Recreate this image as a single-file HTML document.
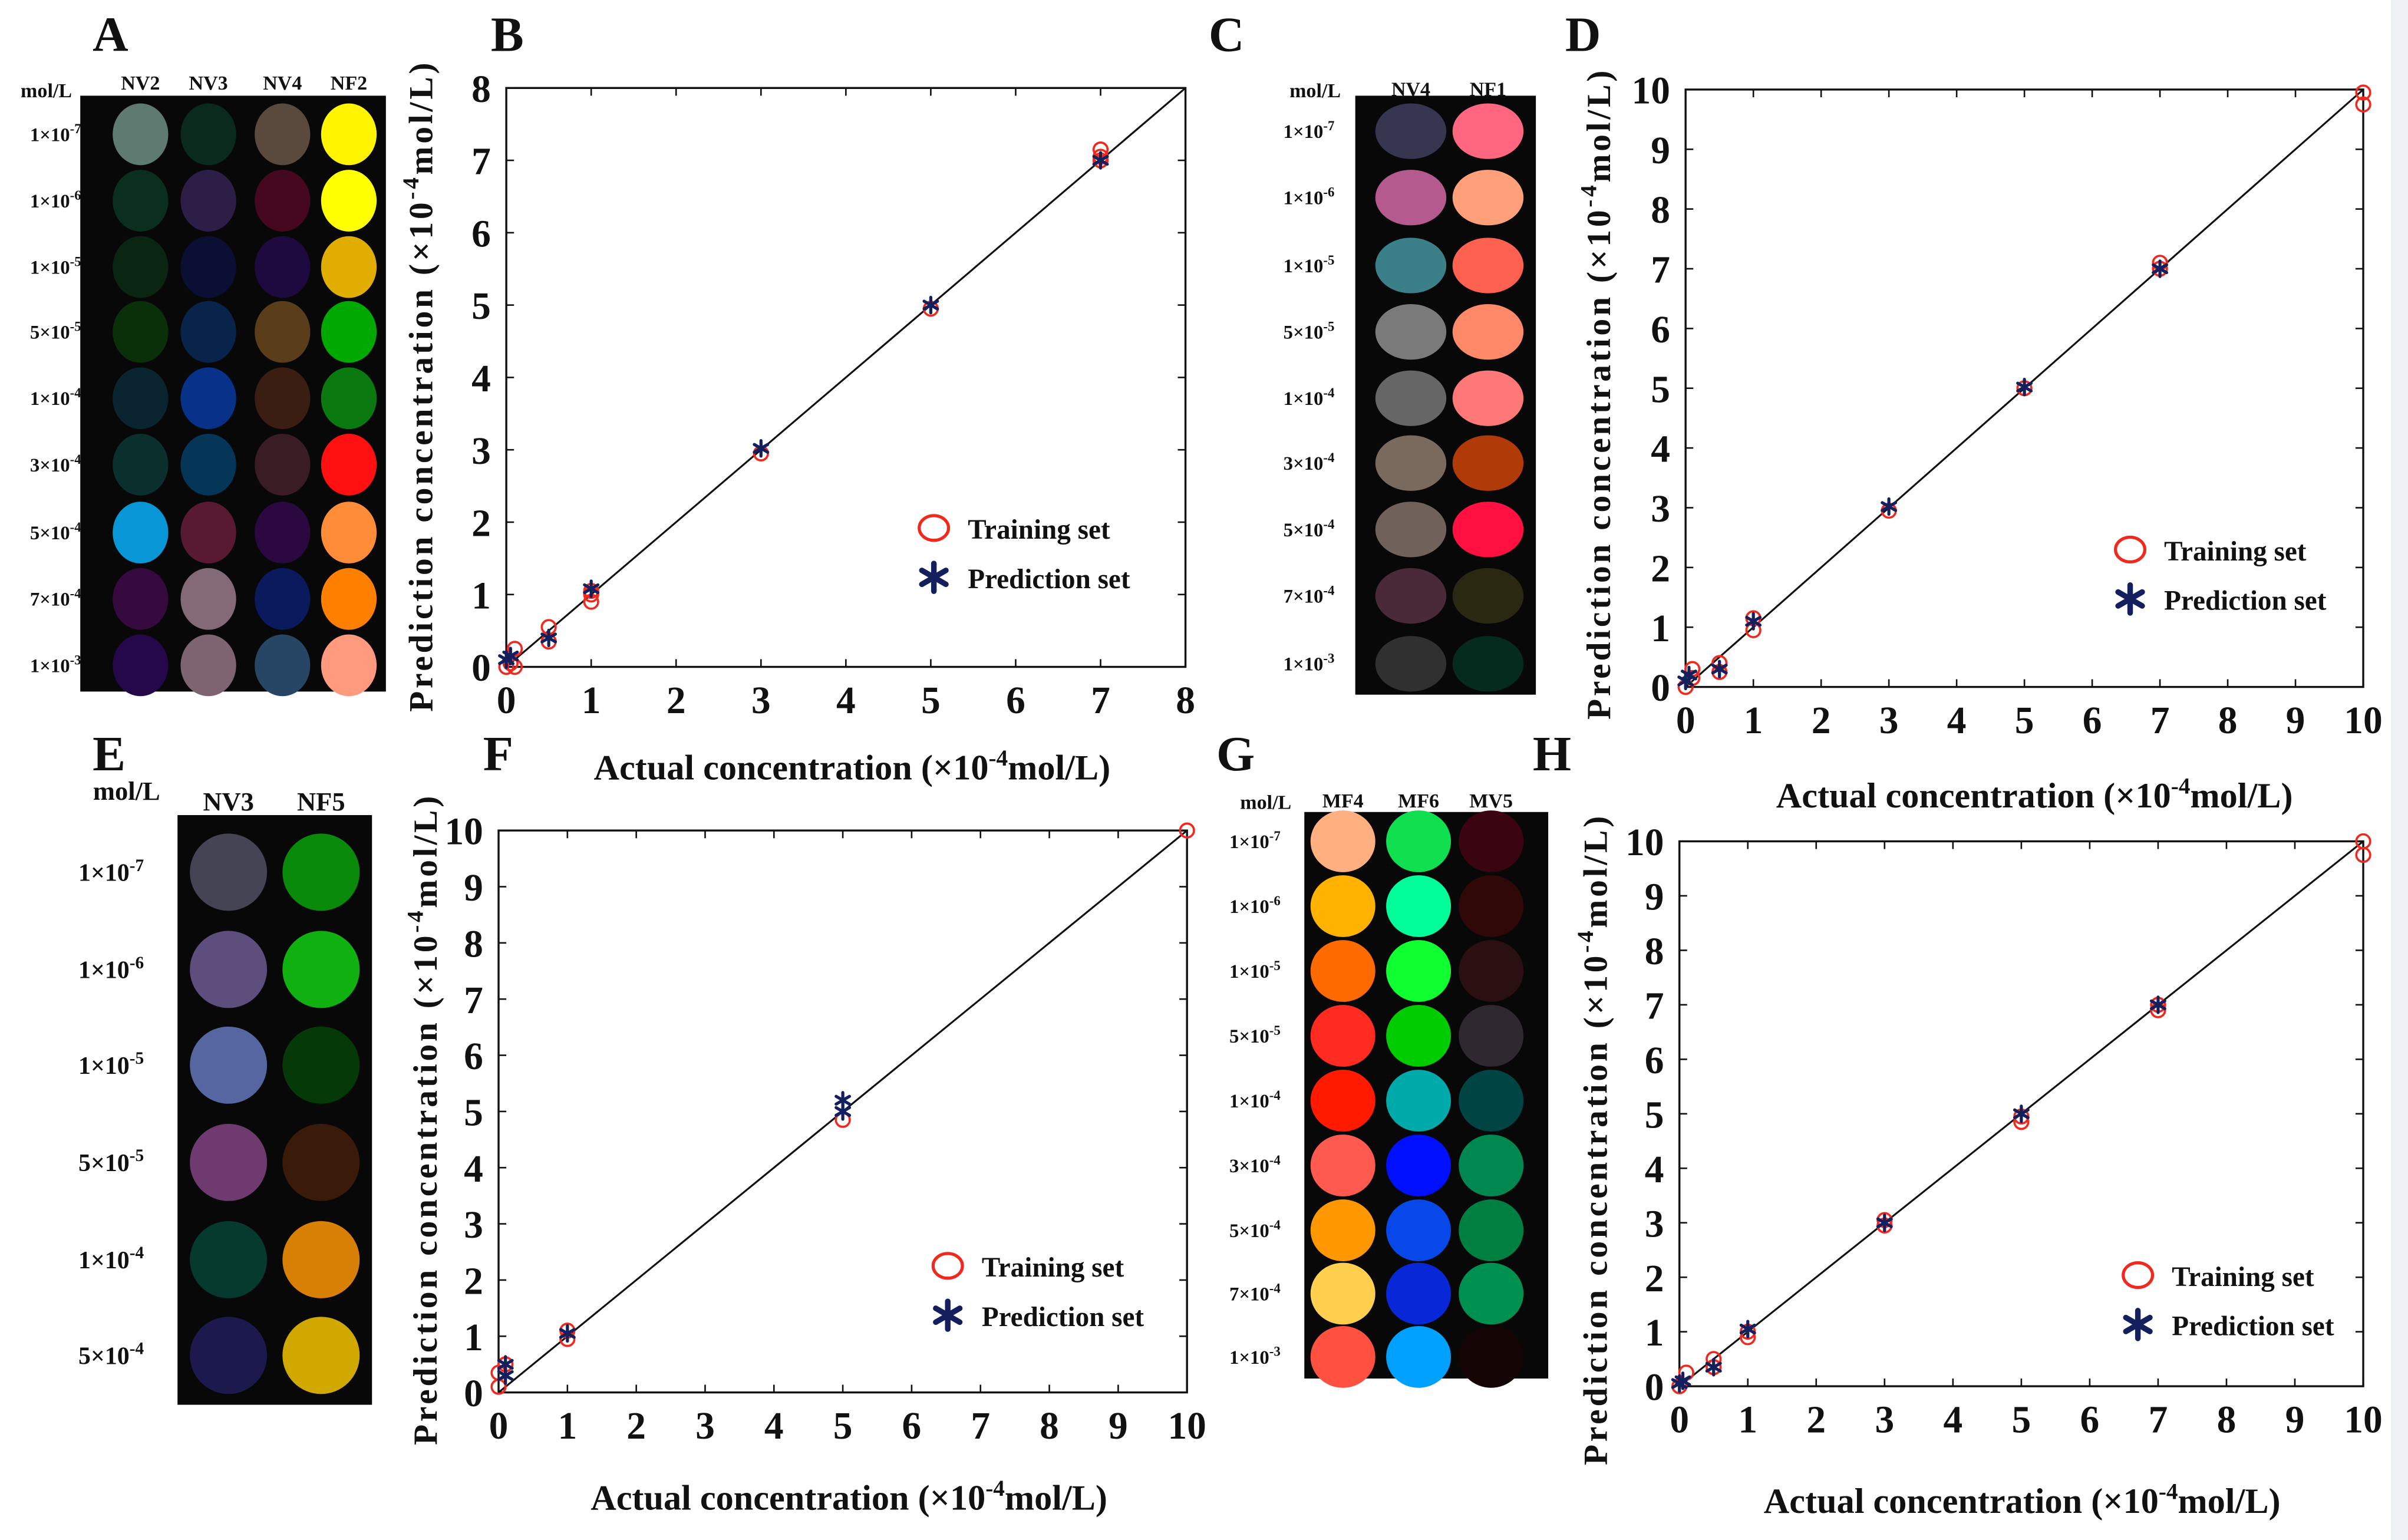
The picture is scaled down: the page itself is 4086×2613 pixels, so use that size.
<!DOCTYPE html>
<html><head><meta charset="utf-8">
<style>
html,body{margin:0;padding:0;background:#fff;}
svg{display:block;}
text{font-family:"Liberation Serif",serif;font-weight:bold;fill:#111;}
</style></head>
<body>
<svg id="fig" xmlns="http://www.w3.org/2000/svg" width="4086" height="2613" viewBox="0 0 1560 997.6" preserveAspectRatio="none">
<rect x="0" y="0" width="1560" height="998" fill="#fff"/>
<rect x="1549" y="0" width="11" height="998" fill="#eef2f6"/>
</svg>
<script>
// ---------- chart data ----------
const ticksB = [0,1,2,3,4,5,6,7,8];
const ticks10 = [0,1,2,3,4,5,6,7,8,9,10];
const trainXB = [0,0.05,0.1,0.1,0.5,0.5,1,1,1,3,5,7,7,7];
const trainYB = [0,0.05,0.25,0.0,0.55,0.35,1.05,0.9,1.0,2.95,4.95,7.15,7.05,7.0];
const predXB = [0,0.05,0.5,1,3,5,7];
const predYB = [0.1,0.15,0.4,1.08,3.02,5.0,7.0];
const trainXD = [0,0.1,0.1,0.5,0.5,1,1,3,5,7,7,10,10];
const trainYD = [0,0.3,0.15,0.4,0.25,1.15,0.95,2.95,5.0,7.1,7.0,9.95,9.75];
const predXD = [0,0.05,0.5,1,3,5,7];
const predYD = [0.1,0.2,0.3,1.1,3.02,5.02,7.0];
const trainXF = [0,0,0.1,1,1,5,10];
const trainYF = [0.35,0.1,0.5,1.1,0.95,4.85,10.0];
const predXF = [0.1,0.1,1,5,5];
const predYF = [0.5,0.3,1.05,5.2,5.0];
const trainXH = [0,0.1,0.5,0.5,1,1,3,3,5,5,7,7,10,10];
const trainYH = [0,0.25,0.5,0.35,1.0,0.9,3.05,2.95,4.95,4.85,7.0,6.9,10.0,9.75];
const predXH = [0,0.05,0.5,1,3,5,7];
const predYH = [0.05,0.1,0.35,1.05,3.0,5.0,7.0];

// ---------- colour panel data ----------
const rowsA = ["7","6","5","5","4","4","4","4","3"];
const coefA = ["1","1","1","5","1","3","5","7","1"];
const colsA = ["NV2","NV3","NV4","NF2"];
const colorsA = [
 ["#5f7a70","#0b2f1f","#0a2512","#0a300a","#0b2530","#0b2f2c","#0796d6","#36093f","#25084a"],
 ["#0a2a1e","#2d1e48","#0a0f33","#08244a","#08318a","#063657","#581a30","#846a76","#7e6470"],
 ["#5a4a3e","#45081e","#1e0a3e","#5a3e1a","#3b1e12","#3a1c24","#2b0840","#0a1a5c","#274565"],
 ["#fff500","#ffff00","#e0ad00","#00a800","#0a7a10","#ff1010","#ff8c38","#ff7f00","#ff9a7f"]];
const colsC = ["NV4","NF1"];
const colorsC = [
 ["#363650","#b45a8e","#3b7f88","#7a7a7a","#666666","#7a6a5e","#70625a","#4a2a38","#303030"],
 ["#ff6680","#ffa07a","#ff6150","#ff8868","#ff7878","#b03a08","#ff1040","#2a2810","#052a1e"]];
const rowsE = ["7","6","5","5","4","4"];
const coefE = ["1","1","1","5","1","5"];
const colsE = ["NV3","NF5"];
const colorsE = [
 ["#444455","#5e4e7e","#5566a0","#6e3a70","#063a2e","#1c1a4c"],
 ["#0a8a0a","#10b010","#053a08","#3a1a08","#d88006","#d0a800"]];
const colsG = ["MF4","MF6","MV5"];
const colorsG = [
 ["#ffb080","#ffb300","#ff6a00","#ff2a20","#ff1a00","#ff5a50","#ff9800","#ffd050","#ff5040"],
 ["#10e050","#00ff99","#10ff30","#00cc00","#00aaaa","#0010ff","#0848e8","#0828d8","#00a0ff"],
 ["#3a0510","#300808","#2a1010","#302830","#004444","#008850","#008040","#009050","#150404"]];

const NS="http://www.w3.org/2000/svg";
const svg=document.getElementById('fig');
function mk(tag,attrs,parent){const e=document.createElementNS(NS,tag);for(const k in attrs)e.setAttribute(k,attrs[k]);(parent||svg).appendChild(e);return e;}

function letter(t,x,y){
 const e=mk('text',{x:x,y:y,'font-size':32});e.textContent=t;
 
 
}
letter('A',60,33);letter('B',318,33);letter('C',783,33);letter('D',1014,33);
letter('E',60,499);letter('F',313,499);letter('G',788,499);letter('H',993,499);

function expLabel(g,x,y,coef,exp,fs){
 const t=mk('text',{x:x,y:y,'font-size':fs,'text-anchor':'middle'},g);
 
 
 const a=mk('tspan',{},t);a.textContent=coef+'×10';
 const b=mk('tspan',{dy:-fs*0.4,'font-size':fs*0.7},t);b.textContent='-'+exp;
}

function colorPanel(name,cfg){
 const g=mk('g',{});
 
 
 const r=mk('rect',{x:cfg.x0,y:cfg.y0,width:cfg.x1-cfg.x0,height:cfg.y1-cfg.y0,fill:'#080808'},g);
 
 
 const ml=mk('text',{x:cfg.molX,y:cfg.molY,'font-size':cfg.hfs,'text-anchor':'middle'},g);ml.textContent='mol/L';
 
 
 cfg.cols.forEach((c,i)=>{
  const h=mk('text',{x:cfg.cx[i],y:cfg.hy,'font-size':cfg.hfs,'text-anchor':'middle'},g);h.textContent=c;
  
  
  cfg.colors[i].forEach((col,j)=>{
   const e=mk('ellipse',{cx:cfg.cx[i],cy:cfg.ry[j],rx:cfg.rx,ry:cfg.rr,fill:col},g);
   
   
  });
 });
 cfg.ry.forEach((y,j)=>expLabel(g,cfg.lx,y+cfg.lfs*0.35,cfg.coef[j],cfg.rows[j],cfg.lfs));
}
const ry9A=[87,130,173,215,258,301,345,388,431];
colorPanel('panel-a-colors',{x0:52,x1:250,y0:62,y1:448,molX:30,molY:63,hfs:13,hy:58,cols:colsA,cx:[91,135,183,226],colors:colorsA,ry:ry9A,rx:18,rr:20,lx:36,lfs:12.5,coef:coefA,rows:rowsA});
colorPanel('panel-c-colors',{x0:878,x1:995,y0:62,y1:450,molX:852,molY:63,hfs:13,hy:62,cols:colsC,cx:[914,964],colors:colorsC,ry:[85,128,172,215,258,300,343,386,430],rx:23,rr:18,lx:848,lfs:12.5,coef:coefA,rows:rowsA});
colorPanel('panel-e-colors',{x0:115,x1:241,y0:528,y1:910,molX:82,molY:518,hfs:17,hy:525,cols:colsE,cx:[148,208],colors:colorsE,ry:[565,628,690,753,816,878],rx:25,rr:25,lx:72,lfs:16,coef:coefE,rows:rowsE});
colorPanel('panel-g-colors',{x0:845,x1:1003,y0:526,y1:893,molX:820,molY:524,hfs:13,hy:523,cols:colsG,cx:[870,919,966],colors:colorsG,ry:[545,587,629,671,713,755,797,838,879],rx:21,rr:20,lx:813,lfs:12.5,coef:coefA,rows:rowsA});

function asterisk(g,x,y,s,name){
 const a=mk('g',{stroke:'#14205e','stroke-width':s>6?3.6:2,'stroke-linecap':'round'},g);
 
 
 for(let k=0;k<3;k++){const ang=Math.PI/2+k*Math.PI/3;
  mk('line',{x1:x-s*Math.cos(ang),y1:y-s*Math.sin(ang),x2:x+s*Math.cos(ang),y2:y+s*Math.sin(ang)},a);}
}

function scatter(name,c){
 const g=mk('g',{});
 
 
 const sx=v=>c.x0+(c.x1-c.x0)*v/c.max;
 const sy=v=>c.y1-(c.y1-c.y0)*v/c.max;
 const box=mk('rect',{x:c.x0,y:c.y0,width:c.x1-c.x0,height:c.y1-c.y0,fill:'none',stroke:'#111','stroke-width':1.3},g);
 
 
 c.ticks.forEach(t=>{
  const X=sx(t),Y=sy(t);
  mk('line',{x1:X,y1:c.y1,x2:X,y2:c.y1-5,stroke:'#111','stroke-width':1},g);
  mk('line',{x1:X,y1:c.y0,x2:X,y2:c.y0+5,stroke:'#111','stroke-width':1},g);
  mk('line',{x1:c.x0,y1:Y,x2:c.x0+5,y2:Y,stroke:'#111','stroke-width':1},g);
  mk('line',{x1:c.x1,y1:Y,x2:c.x1-5,y2:Y,stroke:'#111','stroke-width':1},g);
  const tx=mk('text',{x:X,y:c.y1+30,'font-size':25,'text-anchor':'middle'},g);tx.textContent=t;
  
  
  const ty=mk('text',{x:c.x0-10,y:Y+9,'font-size':25,'text-anchor':'end'},g);ty.textContent=t;
  
  
 });
 const dl=mk('line',{x1:sx(0),y1:sy(0),x2:sx(c.max),y2:sy(c.max),stroke:'#111','stroke-width':1.2},g);
 
 
 c.tx.forEach((v,i)=>{
  const m=mk('circle',{cx:sx(v),cy:sy(c.ty[i]),r:4.5,fill:'none',stroke:'#f0281e','stroke-width':1.4},g);
  
  
 });
 c.px.forEach((v,i)=>asterisk(g,sx(v),sy(c.py[i]),5,'prediction-point'));
 // legend
 const lg=mk('g',{},g);
 
 
 const lc=mk('ellipse',{cx:c.lx,cy:c.ly,rx:9.5,ry:8,fill:'none',stroke:'#f0281e','stroke-width':2},lg);
 
 
 const t1=mk('text',{x:c.lx+22,y:c.ly+7,'font-size':18},lg);t1.textContent='Training set';
 
 
 asterisk(lg,c.lx,c.ly+32,9,'legend-prediction-marker');
 const t2=mk('text',{x:c.lx+22,y:c.ly+39,'font-size':18},lg);t2.textContent='Prediction set';
 
 
 // titles
 const xt=mk('text',{x:c.xtX,y:c.xtY,'font-size':23,'text-anchor':'middle'},g);
 
 
 let s=mk('tspan',{},xt);s.textContent='Actual concentration (×10';
 s=mk('tspan',{dy:-9,'font-size':15},xt);s.textContent='-4';
 s=mk('tspan',{dy:9},xt);s.textContent='mol/L)';
 const yt=mk('text',{x:0,y:0,'font-size':22,'text-anchor':'middle','letter-spacing':1.8,transform:`translate(${c.ytX},${c.ytY}) rotate(-90)`},g);
 
 
 s=mk('tspan',{},yt);s.textContent='Prediction concentration (×10';
 s=mk('tspan',{dy:-9,'font-size':15},yt);s.textContent='-4';
 s=mk('tspan',{dy:9},yt);s.textContent='mol/L)';
}
scatter('chart-b',{x0:328,x1:768,y0:57,y1:432,max:8,ticks:ticksB,tx:trainXB,ty:trainYB,px:predXB,py:predYB,lx:605,ly:342,xtX:552,xtY:505,ytX:280,ytY:250});
scatter('chart-d',{x0:1092,x1:1531,y0:58,y1:445,max:10,ticks:ticks10,tx:trainXD,ty:trainYD,px:predXD,py:predYD,lx:1380,ly:356,xtX:1318,xtY:523,ytX:1043,ytY:255});
scatter('chart-f',{x0:323,x1:769,y0:538,y1:902,max:10,ticks:ticks10,tx:trainXF,ty:trainYF,px:predXF,py:predYF,lx:614,ly:820,xtX:550,xtY:978,ytX:283,ytY:725});
scatter('chart-h',{x0:1088,x1:1531,y0:545,y1:898,max:10,ticks:ticks10,tx:trainXH,ty:trainYH,px:predXH,py:predYH,lx:1385,ly:826,xtX:1310,xtY:980,ytX:1041,ytY:738});
</script>
</body></html>
